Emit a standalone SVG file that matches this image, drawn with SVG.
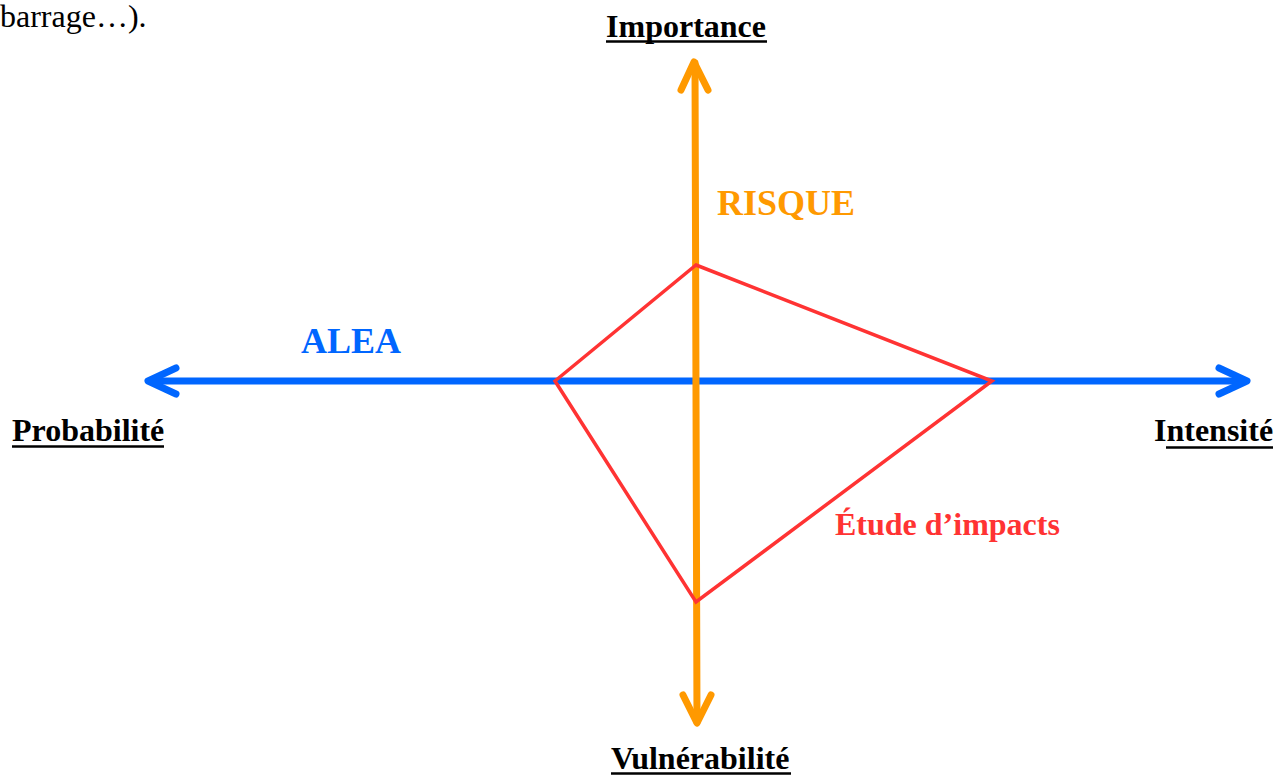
<svg xmlns="http://www.w3.org/2000/svg" width="1276" height="776" viewBox="0 0 1276 776">
<style>
text{font-family:"Liberation Serif","Times New Roman",serif;}
.lbl{font-weight:bold;font-size:32px;fill:#000;}
.ul{stroke:#000;stroke-width:2.5;}
.blue{stroke:#0066ff;stroke-width:7;fill:none;stroke-linecap:round;stroke-linejoin:round;}
.orange{stroke:#ff9900;stroke-width:7;fill:none;stroke-linecap:round;stroke-linejoin:round;}
</style>
<rect width="1276" height="776" fill="#fff"/>
<text x="0" y="27" font-size="32" fill="#000">barrage…).</text>
<g id="connectors">
<g id="alea-axis">
<line class="blue" x1="150" y1="381" x2="1245" y2="381"/>
<polyline class="blue" points="176,368 148,381 176,394"/>
<polyline class="blue" points="1219,368 1247,381 1219,394"/>
</g>
<g id="risque-axis">
<line class="orange" x1="695" y1="63" x2="697" y2="722"/>
<polyline class="orange" points="681,90 694,62 708,90"/>
<polyline class="orange" points="683,695 697,723 711,695"/>
</g>
<polygon id="impact-shape" points="696,265 992,381 696,602 555,381" fill="none" stroke="#ff3333" stroke-width="3.5" stroke-linejoin="miter"/>
</g>
<g id="importance">
<text class="lbl" x="686" y="37" text-anchor="middle">Importance</text>
<line class="ul" x1="606" y1="41.5" x2="767" y2="41.5"/>
</g>
<g id="probabilite">
<text class="lbl" x="12" y="441">Probabilité</text>
<line class="ul" x1="12" y1="446.5" x2="164" y2="446.5"/>
</g>
<g id="intensite">
<text class="lbl" x="1154" y="441">Intensité</text>
<line class="ul" x1="1166" y1="447.5" x2="1273" y2="447.5"/>
</g>
<g id="vulnerabilite">
<text class="lbl" x="611" y="769">Vulnérabilité</text>
<line class="ul" x1="611" y1="773.5" x2="791" y2="773.5"/>
</g>
<g id="risque">
<text x="717" y="215" font-size="36" font-weight="bold" fill="#ff9900">RISQUE</text>
</g>
<g id="alea">
<text x="301" y="353" font-size="36" font-weight="bold" fill="#0066ff">ALEA</text>
</g>
<g id="etude">
<text x="835" y="535" font-size="32" font-weight="bold" fill="#ff3333">Étude d’impacts</text>
</g>
</svg>
